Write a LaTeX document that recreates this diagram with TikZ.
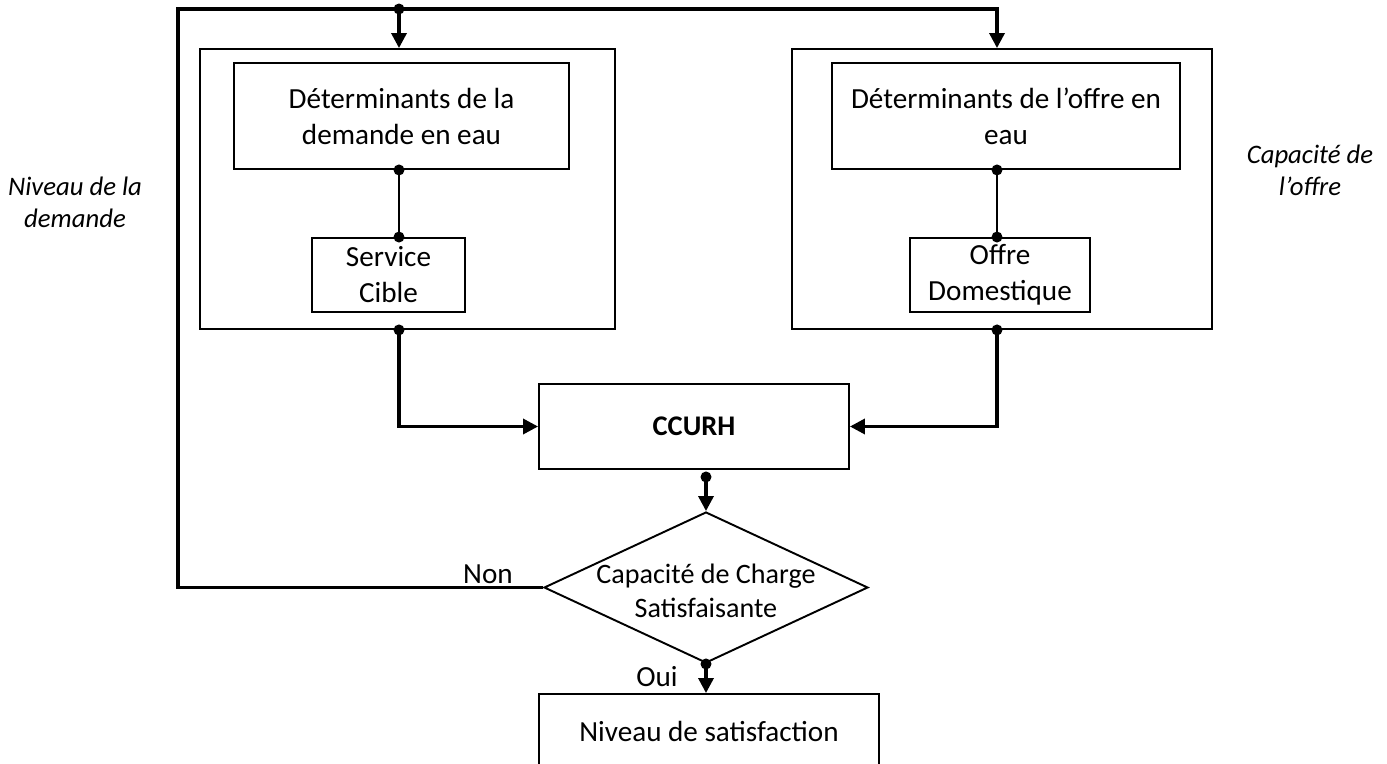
\documentclass[tikz,border=0pt]{standalone}
\usepackage{fontspec}
\setmainfont{Carlito}
\usetikzlibrary{arrows.meta,calc,shapes.geometric}
\tikzset{
  block/.style={
    draw=black, line width=1.1pt, inner sep=0pt, align=center,
    font=\fontsize{16.6}{20.5}\selectfont
  },
  frame/.style={draw=black, line width=1.1pt, inner sep=0pt},
  decision/.style={
    diamond, draw=black, line width=1.1pt, inner sep=0pt,
    minimum width=6.48cm, minimum height=3.02cm
  },
  caption/.style={align=center, font=\fontsize{16.6}{19.4}\selectfont},
  note/.style={align=center, font=\fontsize{15.2}{18.2}\selectfont\itshape},
  flow/.style={-{Triangle[length=0.3cm,width=0.3cm]}, line width=1.9pt, draw=black},
  link/.style={line width=1.6pt, draw=black}
}

\begin{document}
\begin{tikzpicture}[x=0.02cm,y=-0.02cm]
    \useasboundingbox (0,0) rectangle (1387,764);
    \clip (0,0) rectangle (1387,764);
    % demand side
    \node[frame,minimum width=8.3cm,minimum height=5.6cm] (demFrame) at (407.5,189) {};
    \node[block,minimum width=6.7cm,minimum height=2.12cm] (demDet) at (401.5,116) {Déterminants de la\\demande en eau};
    \node[block,minimum width=3.06cm,minimum height=1.48cm] (service) at (388.5,275) {Service\\Cible};
    % offer side
    \node[frame,minimum width=8.4cm,minimum height=5.6cm] (offFrame) at (1002,189) {};
    \node[block,minimum width=6.96cm,minimum height=2.12cm] (offDet) at (1006,116) {Déterminants de l’offre en\\eau};
    \node[block,minimum width=3.6cm,minimum height=1.48cm] (domestique) at (1000,275) {Offre\\Domestique};
    % centre
    \node[block,minimum width=6.2cm,minimum height=1.7cm,font=\fontsize{16.2}{20}\selectfont\bfseries] (ccurh) at (694,426.5) {CCURH};
    \node[decision] (check) at (706,587.5) {};
    \node[caption,font=\fontsize{16}{19.4}\selectfont] (checkText) at (706,591) {Capacité de Charge\\Satisfaisante};
    \node[block,minimum width=6.8cm,minimum height=1.48cm] (niveau) at (709,731) {Niveau de satisfaction};
    % side notes and answers
    \node[note] (demLevel) at (75,202) {Niveau de la\\demande};
    \node[note] (offCap) at (1310,170) {Capacité de\\l’offre};
    \node[caption] (non) at (488,574) {Non};
    \node[caption] (oui) at (657,677) {Oui};
    % columns and loop corner
    \coordinate (demCol) at (399,0);
    \coordinate (offCol) at (997,0);
    \coordinate (loopCorner) at (178,9);
    \draw[flow] (check.west) -| (loopCorner) -| (offCol |- offFrame.north);
    \draw[flow] (demCol |- loopCorner) -- (demCol |- demFrame.north);
    \draw[link] (demCol |- demDet.south) -- (demCol |- service.north);
    \draw[link] (offCol |- offDet.south) -- (offCol |- domestique.north);
    \draw[flow] (demCol |- demFrame.south) |- (ccurh.west);
    \draw[flow] (offCol |- offFrame.south) |- (ccurh.east);
    \draw[flow] ($(ccurh.south -| check.north)+(0,7)$) -- (check.north);
    \draw[flow] (check.south) -- (niveau.north -| check.south);
    % junction dots
    \foreach \p in {demCol |- loopCorner, demCol |- demDet.south, demCol |- service.north,
      offCol |- offDet.south, offCol |- domestique.north, demCol |- demFrame.south,
      offCol |- offFrame.south, check.south}
      \fill ($(\p)$) circle (5.5);
    \fill ($(ccurh.south -| check.north)+(0,7)$) circle (5.5);
  \end{tikzpicture}
\end{document}
